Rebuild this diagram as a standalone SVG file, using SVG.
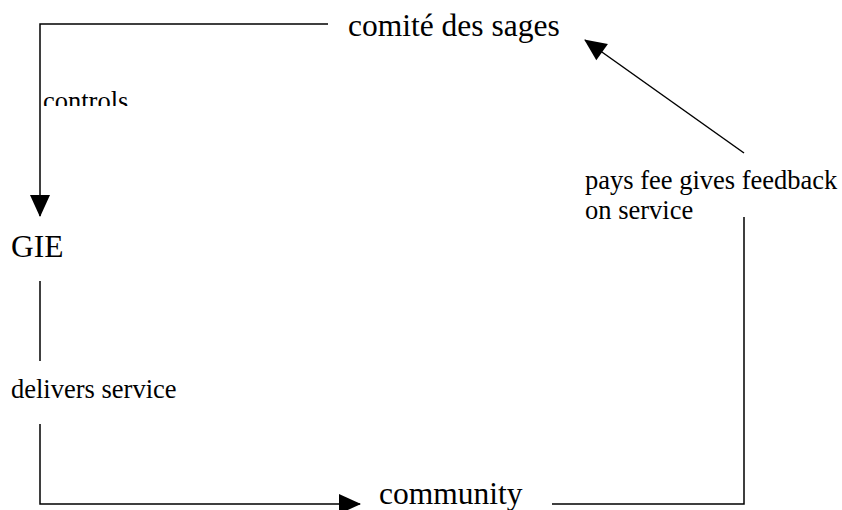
<svg xmlns="http://www.w3.org/2000/svg" width="842" height="510" viewBox="0 0 842 510">
<style>
.big{font-family:"Liberation Serif","Times New Roman",serif;font-size:31.5px;fill:#000}
.small{font-family:"Liberation Serif","Times New Roman",serif;font-size:26.5px;fill:#000}
.conn{fill:none;stroke:#000;stroke-width:1.5}
</style>
<defs>
<marker id="arr" markerUnits="userSpaceOnUse" markerWidth="22" markerHeight="20" refX="21" refY="10" orient="auto" overflow="visible">
<path d="M0,0 L22,10 L0,20 Z" fill="#000"/>
</marker>
<clipPath id="clipControls"><rect x="38" y="80" width="200" height="26"/></clipPath>
</defs>
<rect width="842" height="510" fill="#fff"/>
<g id="connectors">
<polyline class="conn" points="328,24 40,24 40,216" marker-end="url(#arr)"/>
<line class="conn" x1="40" y1="281" x2="40" y2="361"/>
<polyline class="conn" points="40,424 40,504 360,504" marker-end="url(#arr)"/>
<polyline class="conn" points="552,504 744,504 744,217"/>
<line class="conn" x1="744" y1="153" x2="585" y2="40" marker-end="url(#arr)"/>
</g>
<g id="label-controls" clip-path="url(#clipControls)">
<text class="small" x="43" y="110">controls</text>
</g>
<g id="label-delivers">
<text class="small" x="11" y="398">delivers service</text>
</g>
<g id="label-pays">
<text class="small" x="585" y="189">pays fee gives feedback</text>
<text class="small" x="585" y="219">on service</text>
</g>
<g id="node-comite">
<text class="big" x="348" y="36">comité des sages</text>
</g>
<g id="node-gie">
<text class="big" x="11" y="257">GIE</text>
</g>
<g id="node-community">
<text class="big" x="379" y="504">community</text>
</g>
</svg>
